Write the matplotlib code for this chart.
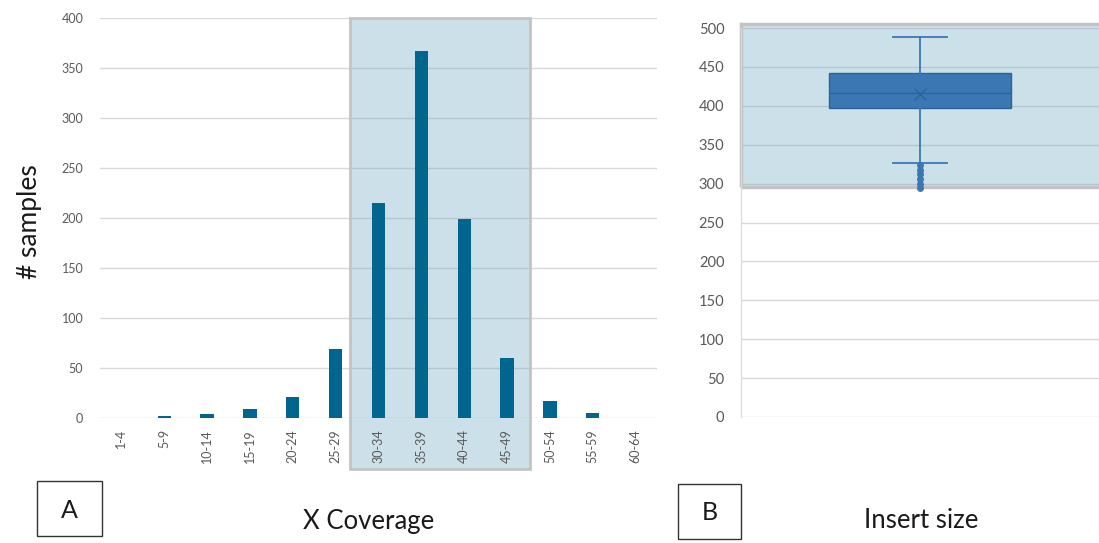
import matplotlib
matplotlib.use("Agg")
import matplotlib.pyplot as plt
import matplotlib.transforms as mtransforms
from matplotlib.patches import Rectangle

plt.rcParams['font.family'] = ['Lato', 'DejaVu Sans']

# Panel A: coverage histogram
coverage_bins = ['1-4', '5-9', '10-14', '15-19', '20-24', '25-29', '30-34',
                 '35-39', '40-44', '45-49', '50-54', '55-59', '60-64']
n_samples = [0, 2, 4, 9, 21, 69, 215, 367, 199, 60, 17, 5, 0]
a_yticks = [0, 50, 100, 150, 200, 250, 300, 350, 400]

# Panel B: insert size box plot stats
insert_stats = {'q1': 397, 'med': 417, 'q3': 442, 'mean': 415,
                'whislo': 327, 'whishi': 488,
                'fliers': [324, 318, 312, 306, 300, 294]}
b_yticks = [0, 50, 100, 150, 200, 250, 300, 350, 400, 450, 500]

grid_col = '#d9d9d9'
tick_col = '#595959'
bar_col = '#00658f'
shade_col = (0.39, 0.64, 0.73)
box_col = '#3b78b3'
dark_box = '#2b649c'

fig = plt.figure(figsize=(10.99, 5.43), dpi=100)

# ---- panel A ----
ax = fig.add_axes([100/1099, 1-418/543, 557/1099, 400/543])
x = range(len(coverage_bins))
for v in a_yticks:
    ax.axhline(v, color=grid_col, lw=1, zorder=0.5)
ax.add_patch(Rectangle((5.33, -51), 4.2, 451, facecolor=shade_col, alpha=0.33,
                       edgecolor='none', zorder=0.8, clip_on=False))
ax.add_patch(Rectangle((5.33, -51), 4.2, 451, facecolor='none', edgecolor='#c3c3c3',
                       lw=2, zorder=0.9, clip_on=False))
ax.bar(x, n_samples, width=0.31, color=bar_col, zorder=2)
ax.set_xlim(-0.5, len(coverage_bins) - 0.5)
ax.set_ylim(0, 400)
ax.set_yticks(a_yticks)
ax.set_xticks(list(x))
ax.set_xticklabels(coverage_bins, rotation=90)
ax.tick_params(length=0, colors=tick_col, labelsize=9)
ax.tick_params(axis='y', pad=12)
ax.tick_params(axis='x', pad=8)
for s in ax.spines.values():
    s.set_visible(False)
fig.text(30/1099, 1-222/543, '# samples', rotation=90, fontsize=19,
         color='#1a1a1a', ha='center', va='center')
fig.text(369/1099, 1-522/543, 'X Coverage', fontsize=18.5, color='#1a1a1a',
         ha='center', va='center')
fig.text(69/1099, 1-510/543, 'A', fontsize=18, color='#1a1a1a',
         ha='center', va='center')
fig.add_artist(Rectangle((37/1099, 1-536/543), 65/1099, 55/543, fill=False,
                         edgecolor='#333333', lw=1, transform=fig.transFigure))

# ---- panel B ----
bx = fig.add_axes([741/1099, 1-417/543, 358/1099, 389/543])
for v in b_yticks:
    bx.axhline(v, color=grid_col, lw=1, zorder=0.5)
trans = mtransforms.blended_transform_factory(bx.transAxes, bx.transData)
bx.add_patch(Rectangle((0, 296), 1.1, 209, facecolor=shade_col, alpha=0.33,
                       edgecolor='none', zorder=0.8, clip_on=False, transform=trans))
bx.add_patch(Rectangle((0, 296), 1.1, 209, facecolor='none', edgecolor='#c3c3c3',
                       lw=2.5, zorder=0.9, clip_on=False, transform=trans))
bx.bxp([insert_stats], positions=[1], widths=1.02, showmeans=True, patch_artist=True,
       boxprops=dict(facecolor=box_col, edgecolor=dark_box, lw=1),
       medianprops=dict(color=dark_box, lw=1),
       whiskerprops=dict(color=box_col, lw=1.3),
       capprops=dict(color=box_col, lw=1.3), capwidths=0.3,
       meanprops=dict(marker='x', markeredgecolor=dark_box, markersize=9, mew=1),
       flierprops=dict(marker='o', markerfacecolor=box_col, markeredgecolor=box_col,
                       markersize=4),
       zorder=3)
bx.set_xlim(0, 2)
bx.set_ylim(0, 500)
bx.set_yticks(b_yticks)
bx.set_xticks([])
bx.tick_params(length=0, colors=tick_col, labelsize=10.5, pad=12)
for s in bx.spines.values():
    s.set_visible(False)
bx.spines['left'].set_visible(True)
bx.spines['left'].set_color(grid_col)
fig.text(921/1099, 1-521/543, 'Insert size', fontsize=18.5, color='#1a1a1a',
         ha='center', va='center')
fig.text(710/1099, 1-513/543, 'B', fontsize=18, color='#1a1a1a',
         ha='center', va='center')
fig.add_artist(Rectangle((678/1099, 1-539/543), 63/1099, 55/543, fill=False,
                         edgecolor='#333333', lw=1, transform=fig.transFigure))

fig.savefig('out.png', dpi=100)
